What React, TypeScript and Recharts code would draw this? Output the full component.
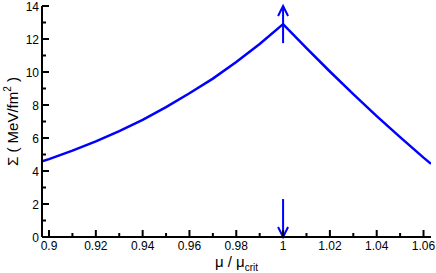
import React from 'react';
import { LineChart, Line, XAxis, YAxis, ReferenceLine } from 'recharts';

// mu / mu_crit sampled along the curve
const muRatio = [
  0.897, 0.9, 0.91, 0.92, 0.93, 0.94, 0.95, 0.96, 0.97, 0.98, 0.99, 1.0,
  1.01, 1.02, 1.03, 1.04, 1.05, 1.06, 1.0632,
];
// Sigma in MeV/fm^2
const sigma = [
  4.58, 4.72, 5.23, 5.79, 6.41, 7.1, 7.87, 8.71, 9.6, 10.6, 11.7, 12.9,
  11.44, 10.03, 8.66, 7.33, 6.05, 4.81, 4.44,
];

const xMajorTicks = [0.9, 0.92, 0.94, 0.96, 0.98, 1, 1.02, 1.04, 1.06];
const xMinorTicks = [0.91, 0.93, 0.95, 0.97, 0.99, 1.01, 1.03, 1.05];
const yMajorTicks = [0, 2, 4, 6, 8, 10, 12, 14];
const yMinorTicks = [1, 3, 5, 7, 9, 11, 13];

const xDomain = [0.897, 1.0632];
const yDomain = [0, 14];

// arrows at the critical point
const critX = 1;
const upArrow = [11.75, 14];
const downArrow = [2.3, 0];

const data = muRatio.map((x, i) => ({ x, y: sigma[i] }));
const xTicks = [...xMajorTicks, ...xMinorTicks].sort((a, b) => a - b);
const yTicks = [...yMajorTicks, ...yMinorTicks].sort((a, b) => a - b);

// no serif face is available here, Liberation Sans is the closest in width
const FONT = "'Liberation Sans', Arial, sans-serif";
const txt = { fontFamily: FONT };
const BLUE = '#0000ff';
const MAJOR = 7;
const MINOR = 4;

const BottomTick = (props: any) => {
  const { x, y, payload } = props;
  const major = xMajorTicks.includes(payload.value);
  return (
    <g>
      <line x1={x} y1={y} x2={x} y2={y - (major ? MAJOR : MINOR)} stroke="#000" strokeWidth={2} />
      {major && (
        <text x={x} y={y + 13} textAnchor="middle" fontSize={12} style={txt} fill="#000">
          {String(payload.value)}
        </text>
      )}
    </g>
  );
};

const TopTick = (props: any) => {
  const { x, y, payload } = props;
  const major = xMajorTicks.includes(payload.value);
  return <line x1={x} y1={y} x2={x} y2={y + (major ? MAJOR - 1 : MINOR)} stroke="#000" strokeWidth={2} />;
};

const LeftTick = (props: any) => {
  const { x, y, payload } = props;
  const major = yMajorTicks.includes(payload.value);
  return (
    <g>
      <line x1={x} y1={y} x2={x + (major ? MAJOR : MINOR)} y2={y} stroke="#000" strokeWidth={2} />
      {major && (
        <text x={x - 3} y={y + 4.5} textAnchor="end" fontSize={12} style={txt} fill="#000">
          {String(payload.value)}
        </text>
      )}
    </g>
  );
};

const RightTick = (props: any) => {
  const { x, y, payload } = props;
  const major = yMajorTicks.includes(payload.value);
  return <line x1={x} y1={y} x2={x - (major ? MAJOR : MINOR)} y2={y} stroke="#000" strokeWidth={2} />;
};

const Arrow = (props: any) => {
  const { x1, y1, x2, y2 } = props;
  const dir = y2 < y1 ? 1 : -1;
  return (
    <g>
      <line x1={x1} y1={y1} x2={x2} y2={y2} stroke={BLUE} strokeWidth={2} />
      <polyline
        points={`${x2 - 5},${y2 + dir * 10} ${x2},${y2} ${x2 + 5},${y2 + dir * 10}`}
        fill="none"
        stroke={BLUE}
        strokeWidth={2}
      />
    </g>
  );
};

const axisLine = { stroke: '#000', strokeWidth: 2 };

export default function App() {
  return (
    <div style={{ position: 'absolute', left: 0, top: 0, width: 436, height: 273, background: '#fff' }}>
      <LineChart width={436} height={273} data={data} margin={{ top: 6, right: 5, bottom: 0, left: 12 }}>
        <XAxis
          dataKey="x"
          type="number"
          domain={xDomain}
          allowDataOverflow
          ticks={xTicks}
          interval={0}
          height={36}
          tickSize={0}
          tickMargin={0}
          tickLine={false}
          axisLine={axisLine}
          tick={<BottomTick />}
        />
        <XAxis
          xAxisId="top"
          orientation="top"
          dataKey="x"
          type="number"
          domain={xDomain}
          allowDataOverflow
          ticks={xTicks}
          interval={0}
          height={0}
          tickSize={0}
          tickMargin={0}
          tickLine={false}
          axisLine={axisLine}
          tick={<TopTick />}
        />
        <YAxis
          type="number"
          domain={yDomain}
          allowDataOverflow
          ticks={yTicks}
          interval={0}
          width={30}
          tickSize={0}
          tickMargin={0}
          tickLine={false}
          axisLine={axisLine}
          tick={<LeftTick />}
        />
        <YAxis
          yAxisId="right"
          orientation="right"
          type="number"
          domain={yDomain}
          allowDataOverflow
          ticks={yTicks}
          interval={0}
          width={0}
          tickSize={0}
          tickMargin={0}
          tickLine={false}
          axisLine={axisLine}
          tick={<RightTick />}
        />
        <Line
          type="linear"
          dataKey="y"
          stroke={BLUE}
          strokeWidth={2.5}
          dot={false}
          isAnimationActive={false}
        />
        <ReferenceLine
          segment={[{ x: critX, y: upArrow[0] }, { x: critX, y: upArrow[1] }]}
          shape={<Arrow />}
          ifOverflow="visible"
        />
        <ReferenceLine
          segment={[{ x: critX, y: downArrow[0] }, { x: critX, y: downArrow[1] }]}
          shape={<Arrow />}
          ifOverflow="visible"
        />
        <text x={236.5} y={267} textAnchor="middle" fontSize={15} style={txt} fill="#000">
          μ / μ
          <tspan fontSize={10} dy={4}>crit</tspan>
        </text>
        <text
          x={18}
          y={121.5}
          transform="rotate(-90, 18, 121.5)"
          textAnchor="middle"
          fontSize={15}
          style={txt}
          fill="#000"
        >
          Σ ( MeV/fm
          <tspan fontSize={10} dy={-7}>2</tspan>
          <tspan dy={7}> )</tspan>
        </text>
      </LineChart>
    </div>
  );
}
